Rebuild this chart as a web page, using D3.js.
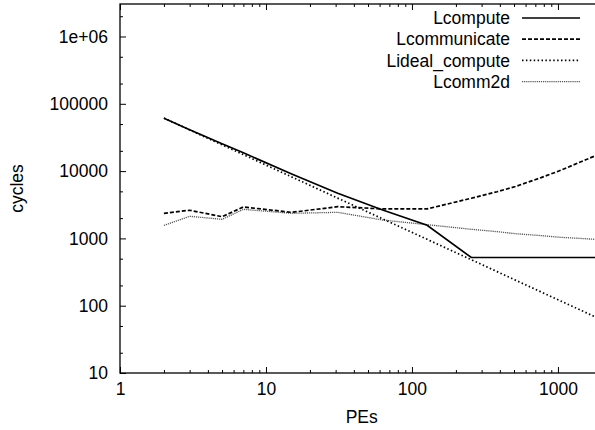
<!DOCTYPE html>
<html>
<head>
<meta charset="utf-8">
<script src="https://cdn.jsdelivr.net/npm/d3@7"></script>
<style>
  html, body { margin: 0; padding: 0; background: #fff; }
  svg { display: block; font-family: "Liberation Sans", Arial, Helvetica, sans-serif; }
  .axis path { display: none; }
  .axis line { stroke: #000; stroke-width: 1; }
  .axis text { font-size: 17.5px; fill: #000; }
</style>
</head>
<body>
<svg id="chart" width="595" height="430"></svg>
<script>
// Processor counts (x) and per-series timings in cycles (y)
const pes          = [2, 3, 5, 7, 15, 31, 63, 127, 255, 383, 511, 767, 1023, 1535, 2047];
const lCompute     = [61000, 41200, 25500, 18700, 9060, 4680, 2640, 1570, 520, 520, 520, 520, 520, 520, 520];
const lCommunicate = [2360, 2620, 2100, 2930, 2440, 2960, 2740, 2740, 3950, 4940, 5900, 8000, 10100, 14600, 19000];
const lIdealCompute= [61440, 40960, 24576, 17554, 8192, 3964, 1950, 968, 482, 321, 240, 160, 120, 80, 60];
const lComm2d      = [1560, 2130, 1920, 2700, 2360, 2440, 1875, 1600, 1365, 1260, 1175, 1100, 1040, 990, 950];

const seriesNames  = ["Lcompute", "Lcommunicate", "Lideal_compute", "Lcomm2d"];

const xMajorTicks  = [1, 10, 100, 1000];
const yMajorTicks  = [10, 100, 1000, 10000, 100000, 1000000];
const yTickLabels  = ["10", "100", "1000", "10000", "100000", "1e+06"];

const xLabel = "PEs";
const yLabel = "cycles";

// Frame of the plotting area
const plot = { left: 120, top: 4, right: 603.4, bottom: 373 };

const svg = d3.select("#chart");

const x = d3.scaleLog().domain([1, 2048]).range([plot.left, plot.right]);
const y = d3.scaleLog().domain([10, 3.04e6]).range([plot.bottom, plot.top]);

// Minor tick positions: 2..9 per decade on x, 2 and 5 per decade on y
const xMinor = [];
for (let d = 1; d < 2048; d *= 10) for (let m = 2; m <= 9; m++) if (d * m < 2048) xMinor.push(d * m);
const yMinor = [];
for (let d = 10; d < 3.04e6; d *= 10) for (const m of [2, 5]) if (d * m < 3.04e6) yMinor.push(d * m);

const W = plot.right - plot.left, H = plot.bottom - plot.top;

function addAxis(gen, tx, ty) {
  return svg.append("g").attr("class", "axis").attr("transform", `translate(${tx},${ty})`).call(gen);
}

// Major ticks with labels (ticks pointing inward)
addAxis(d3.axisBottom(x).tickValues(xMajorTicks).tickFormat(d3.format("d")).tickSize(-6).tickPadding(10), 0, plot.bottom);
addAxis(d3.axisLeft(y).tickValues(yMajorTicks).tickFormat((d, i) => yTickLabels[i]).tickSize(-6).tickPadding(12), plot.left, 0);
// Mirrored major ticks on top / right
addAxis(d3.axisTop(x).tickValues(xMajorTicks).tickFormat("").tickSize(-6), 0, plot.top);
addAxis(d3.axisRight(y).tickValues(yMajorTicks).tickFormat("").tickSize(-6), plot.right, 0);
// Minor ticks
addAxis(d3.axisBottom(x).tickValues(xMinor).tickFormat("").tickSize(-3), 0, plot.bottom);
addAxis(d3.axisTop(x).tickValues(xMinor).tickFormat("").tickSize(-3), 0, plot.top);
addAxis(d3.axisLeft(y).tickValues(yMinor).tickFormat("").tickSize(-3), plot.left, 0);
addAxis(d3.axisRight(y).tickValues(yMinor).tickFormat("").tickSize(-3), plot.right, 0);

// Frame
svg.append("rect")
  .attr("x", plot.left).attr("y", plot.top)
  .attr("width", W).attr("height", H)
  .attr("fill", "none").attr("stroke", "#000").attr("stroke-width", 1.3);

// Axis titles
svg.append("text")
  .attr("x", (plot.left + plot.right) / 2).attr("y", 423)
  .attr("text-anchor", "middle").attr("font-size", 17.5).text(xLabel);
svg.append("text")
  .attr("transform", `translate(23,${(plot.top + plot.bottom) / 2}) rotate(-90)`)
  .attr("text-anchor", "middle").attr("font-size", 17.5).text(yLabel);

// Series styles
const styles = [
  { color: "#000", width: 1.7, dash: null },
  { color: "#000", width: 1.7, dash: "4,2" },
  { color: "#000", width: 1.7, dash: "1.5,2.4" },
  { color: "#555", width: 1.3, dash: "1.2,0.9" }
];
const seriesValues = [lCompute, lCommunicate, lIdealCompute, lComm2d];

svg.append("defs").append("clipPath").attr("id", "clip")
  .append("rect").attr("x", plot.left).attr("y", plot.top).attr("width", W).attr("height", H);

const line = d3.line().x(d => x(d[0])).y(d => y(d[1]));

const gLines = svg.append("g").attr("clip-path", "url(#clip)");
// draw back-to-front so the solid line sits on top
[3, 2, 1, 0].forEach(i => {
  const pts = pes.map((p, j) => [p, seriesValues[i][j]]);
  gLines.append("path")
    .datum(pts)
    .attr("d", line)
    .attr("fill", "none")
    .attr("stroke", styles[i].color)
    .attr("stroke-width", styles[i].width)
    .attr("stroke-dasharray", styles[i].dash)
    .attr("stroke-linejoin", "miter");
});

// Key
const key = svg.append("g");
seriesNames.forEach((name, i) => {
  const ky = 18 + i * 21.2;
  key.append("text")
    .attr("x", 510).attr("y", ky).attr("dy", "0.35em")
    .attr("text-anchor", "end").attr("font-size", 17.5).text(name);
  key.append("line")
    .attr("x1", 522).attr("x2", 580).attr("y1", ky).attr("y2", ky)
    .attr("stroke", styles[i].color)
    .attr("stroke-width", styles[i].width)
    .attr("stroke-dasharray", styles[i].dash);
});
</script>
</body>
</html>
